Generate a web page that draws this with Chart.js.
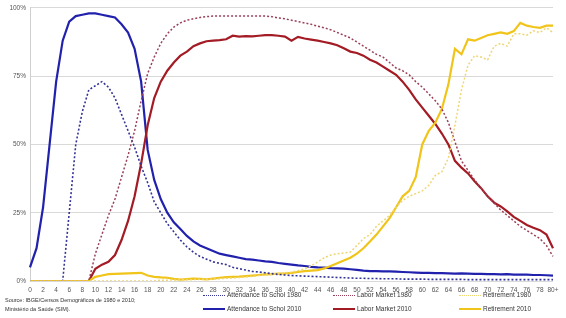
<!DOCTYPE html>
<html>
<head>
<meta charset="utf-8">
<script src="https://cdn.jsdelivr.net/npm/chart.js@4"></script>
<style>
  body { margin: 0; background: #fff; font-family: "Liberation Sans", Arial, sans-serif; }
  #wrap { position: relative; width: 566px; height: 318px; }
  canvas { display: block; }
  #source { position: absolute; left: 5px; top: 296px; font-size: 5.5px; line-height: 9px; color: #333; }
  .leg { position: absolute; font-size: 6.5px; line-height: 8px; color: #333; white-space: nowrap; }
  .leg span.s { display: inline-block; width: 22px; height: 0; vertical-align: middle; margin-right: 2px; }
</style>
</head>
<body>
<div id="wrap">
  <canvas id="myChart" width="566" height="318"></canvas>
  <div id="source">Source: IBGE/Censos Demográficos de 1980 e 2010;<br>Ministério da Saúde (SIM).</div>
  <div id="legend"></div>
</div>
<script>
var ages = [];
for (var a = 0; a < 80; a++) ages.push(String(a));
ages.push('80+');

var school1980 = [0, 0, 0, 0, 0, 0, 25, 50, 62, 70,
  71.5, 73, 71, 67, 61, 55, 49, 42, 36, 29,
  25, 21, 18, 15, 12.5, 10.5, 9, 8, 7, 6.5,
  6, 5, 4.5, 4, 3.5, 3.3, 3, 2.7, 2.4, 2.2,
  2, 1.9, 1.8, 1.7, 1.6, 1.5, 1.4, 1.3, 1.2, 1.1,
  1, 1, 0.9, 0.9, 0.8, 0.8, 0.8, 0.7, 0.7, 0.7,
  0.7, 0.6, 0.6, 0.6, 0.6, 0.6, 0.6, 0.5, 0.5, 0.5,
  0.5, 0.5, 0.5, 0.5, 0.5, 0.5, 0.5, 0.5, 0.5, 0.5, 0.5];

var labor1980 = [0, 0, 0, 0, 0, 0, 0, 0, 0, 0,
  10, 17, 24, 30, 38, 46, 55, 66, 76, 82,
  87, 90.5, 93, 94.5, 95.5, 96, 96.5, 96.8, 97, 97,
  97, 97, 97, 97, 97, 97, 97, 96.8, 96.3, 96,
  95.5, 95, 94.5, 94, 93.3, 92.7, 92, 91, 90, 89,
  87.5, 86, 84.5, 83, 82, 80, 78, 77, 75.5, 73,
  71, 68.5, 66, 63, 58, 51, 44, 40.5, 37, 34,
  31, 28.5, 26, 24, 22, 20, 18.5, 17, 15.5, 13, 9];

var retire1980 = [0, 0, 0, 0, 0, 0, 0, 0, 0, 0,
  0, 0, 0, 0, 0, 0, 0, 0, 0, 0,
  0.3, 0.3, 0.4, 0.4, 0.5, 0.5, 0.6, 0.6, 0.7, 0.8,
  1, 1.1, 1.3, 1.5, 1.7, 2, 2.2, 2.4, 2.7, 3,
  3.2, 3.8, 4.5, 5.5, 7, 8.5, 9.5, 10, 10.3, 10.6,
  13, 15.5, 17, 20, 22, 24, 27, 29.5, 31, 32,
  33, 35, 38.7, 40, 45, 57, 70, 79, 82.5, 82,
  81, 86, 87, 86, 90.5, 90.5, 90, 91.6, 91, 92.7, 91];

var school2010 = [5, 12, 27, 50, 73, 88, 95, 97, 97.5, 98,
  98, 97.5, 97, 96.5, 94, 91, 85, 73, 48, 37,
  30, 25, 21.5, 19, 16.5, 14.5, 13, 12, 11, 10,
  9.5, 9, 8.5, 8, 7.8, 7.5, 7.2, 7, 6.6, 6.3,
  6, 5.7, 5.5, 5.2, 5, 4.9, 4.7, 4.6, 4.5, 4.3,
  4.1, 3.8, 3.6, 3.6, 3.5, 3.5, 3.4, 3.3, 3.2, 3.1,
  3, 3, 2.9, 2.9, 2.8, 2.7, 2.8, 2.7, 2.6, 2.6,
  2.5, 2.5, 2.4, 2.5, 2.3, 2.3, 2.3, 2.2, 2.2, 2.1, 2];

var labor2010 = [0, 0, 0, 0, 0, 0, 0, 0, 0, 0,
  4.5, 6, 7, 9.5, 15, 22, 31, 43, 57, 67,
  73, 77, 80, 82.5, 84, 86, 87, 87.8, 88, 88.2,
  88.5, 89.8, 89.5, 89.7, 89.6, 89.8, 90, 90, 89.8, 89.5,
  88, 89.4, 88.8, 88.4, 88, 87.5, 87, 86.3, 85.2, 84,
  83.5, 82.5, 81, 80, 78.5, 77, 75.5, 73, 70, 66.5,
  63.5, 60.5, 57.5, 54, 50, 44, 41.5, 39.4, 36.5, 34,
  31, 28.7, 27.3, 25.5, 23.5, 22, 20.5, 19.5, 18.6, 17, 12];

var retire2010 = [0, 0, 0, 0, 0, 0, 0, 0, 0, 0,
  1.5, 2, 2.5, 2.6, 2.7, 2.8, 2.9, 3, 2, 1.5,
  1.3, 1.2, 0.8, 0.5, 0.7, 0.9, 0.8, 0.6, 0.9, 1.2,
  1.4, 1.5, 1.6, 1.8, 2, 2.2, 2.4, 2.5, 2.7, 2.8,
  3, 3.3, 3.6, 3.8, 4, 4.6, 5.5, 6.5, 7.5, 8.5,
  10, 12, 14.5, 17, 20, 23, 27, 31, 33, 38,
  50, 55, 58, 63, 72, 85, 83, 88.5, 88, 89,
  90, 90.5, 91, 90.5, 91.5, 94.5, 93.5, 93, 92.7, 93.5, 93.5];

var yTicks = ['0%', '25%', '50%', '75%', '100%'];

function line(label, data, color, width, dash) {
  return {
    label: label,
    data: data,
    borderColor: color,
    backgroundColor: color,
    borderWidth: width,
    borderDash: dash,
    pointRadius: 0,
    tension: 0,
    fill: false
  };
}

var datasets = [
  line('Retirement 1980', retire1980, '#efd675', 1.5, [2, 2]),
  line('Labor Market 1980', labor1980, '#9a4058', 1.5, [2, 2]),
  line('Attendance to Schol 1980', school1980, '#353596', 1.6, [2, 2]),
  line('Retirement 2010', retire2010, '#f0c419', 2.2, []),
  line('Labor Market 2010', labor2010, '#a31b24', 2.2, []),
  line('Attendance to Schol 2010', school2010, '#2121ad', 2.2, [])
];

var ctx = document.getElementById('myChart');
var myChart = new Chart(ctx, {
  type: 'line',
  data: { labels: ages, datasets: datasets },
  options: {
    responsive: false,
    animation: false,
    layout: { padding: { top: 7, right: 13, bottom: 23, left: 0 } },
    plugins: { legend: { display: false }, tooltip: { enabled: false } },
    scales: {
      x: {
        offset: false,
        grid: { display: false, drawTicks: false },
        border: { display: false },
        afterFit: function (s) { s.height = 14; },
        ticks: {
          autoSkip: false,
          maxRotation: 0,
          padding: 5,
          color: '#555',
          font: { size: 6.5, family: 'Liberation Sans' },
          callback: function (v, i) { return i % 2 === 0 ? ages[i] : ''; }
        }
      },
      y: {
        min: 0,
        max: 100,
        afterFit: function (s) { s.width = 30; },
        grid: { color: '#d9d9d9', drawTicks: false },
        border: { display: true, color: '#cfcfcf' },
        ticks: {
          stepSize: 25,
          padding: 4,
          color: '#555',
          font: { size: 6.5, family: 'Liberation Sans' },
          callback: function (v) { return yTicks[v / 25]; }
        }
      }
    }
  }
});

// html legend built from the chart's datasets, 2 rows x 3 columns
var order = [
  ['Attendance to Schol 1980', 203, 291], ['Labor Market 1980', 333, 291], ['Retirement 1980', 459, 291],
  ['Attendance to Schol 2010', 203, 305], ['Labor Market 2010', 333, 305], ['Retirement 2010', 459, 305]
];
var legendEl = document.getElementById('legend');
order.forEach(function (o) {
  var ds = myChart.data.datasets.find(function (d) { return d.label === o[0]; });
  var el = document.createElement('div');
  el.className = 'leg';
  el.style.left = o[1] + 'px';
  el.style.top = o[2] + 'px';
  var dotted = ds.borderDash.length > 0;
  el.innerHTML = '<span class="s" style="border-top:' + (dotted ? '1.5px dotted ' : '2px solid ') +
    ds.borderColor + '"></span>' + ds.label;
  legendEl.appendChild(el);
});
</script>
</body>
</html>
